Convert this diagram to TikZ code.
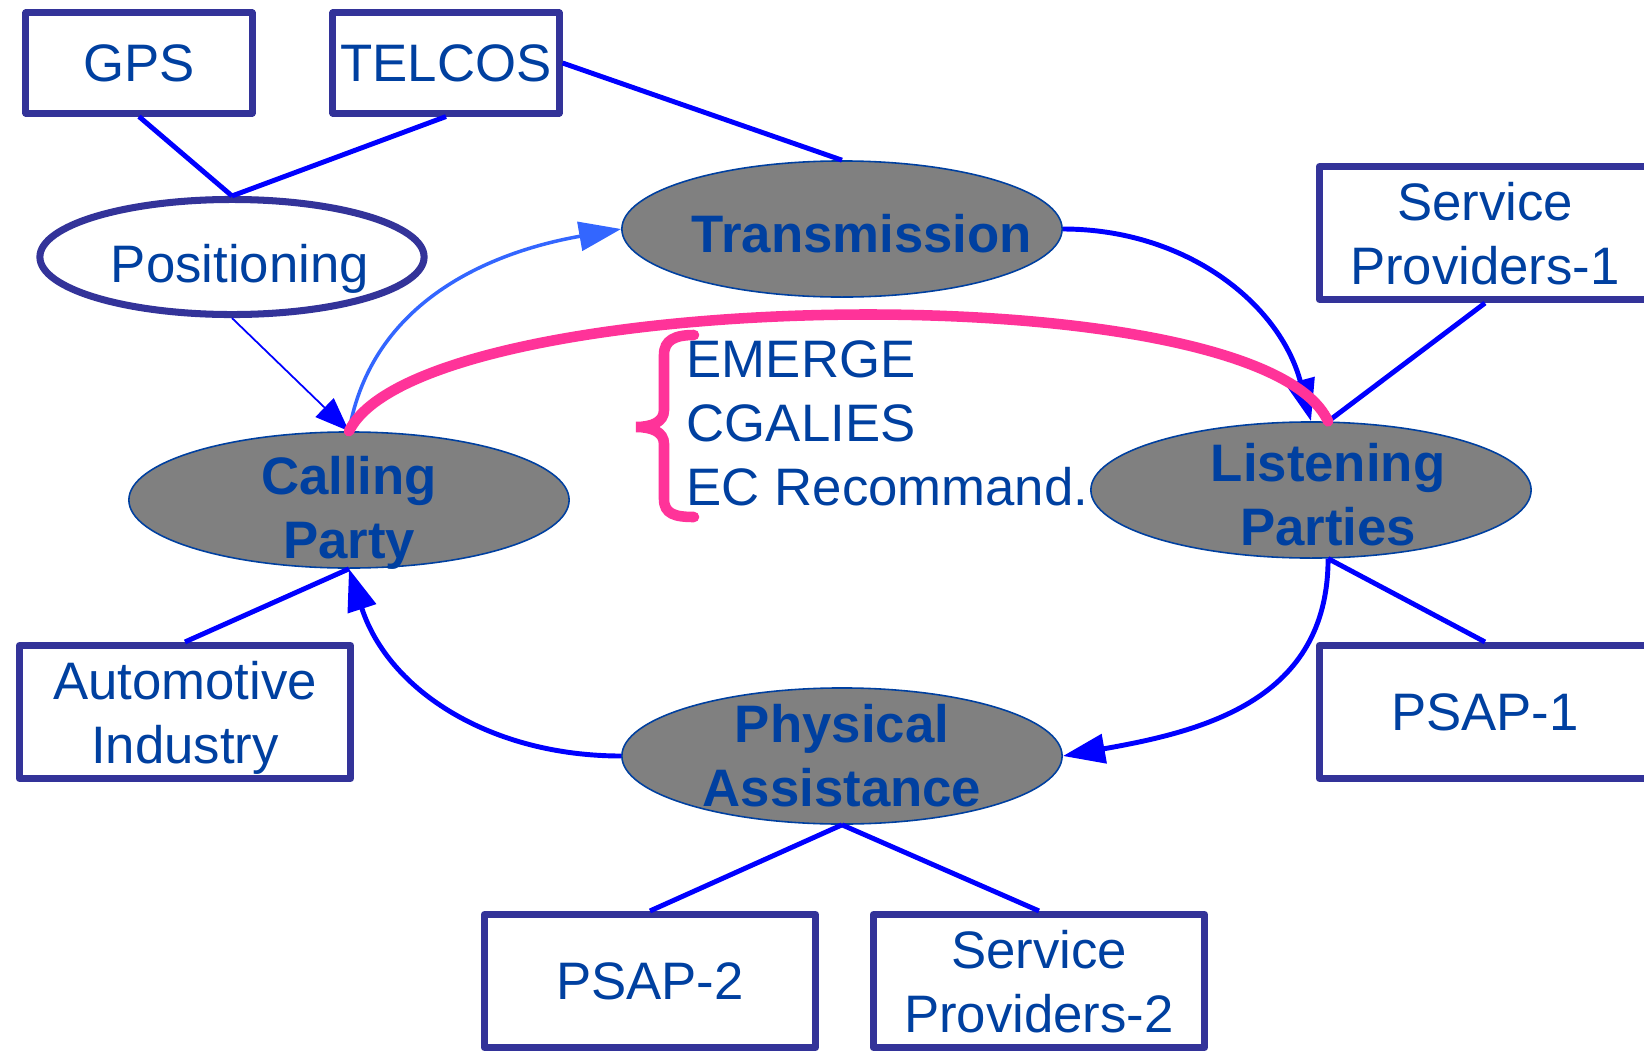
\documentclass[tikz,border=0pt]{standalone}
\usepackage{fontspec}
\setmainfont{Liberation Sans}
\usepackage{tikz}
\usetikzlibrary{shapes.geometric,arrows.meta,positioning,calc}
\definecolor{ecframe}{HTML}{333399}
\definecolor{ectext}{HTML}{0040A0}
\definecolor{eclink}{HTML}{0000FF}
\definecolor{ecsky}{HTML}{3366FF}
\definecolor{ecgray}{HTML}{808080}
\definecolor{ecpink}{HTML}{FF3399}
\newcommand{\ecfont}{\fontsize{15}{18.2}\selectfont}
\tikzset{
  actor/.style={rectangle,draw=ecframe,line width=2pt,line join=round,fill=white,
                minimum width=3.31cm,minimum height=1.33cm,inner sep=0pt,text depth=0pt,
                align=center,font=\ecfont,text=ectext},
  hub/.style={ellipse,draw=ectext,line width=0.45pt,fill=ecgray,
              minimum width=4.4cm,minimum height=1.36cm},
  hubtext/.style={align=center,font=\ecfont\bfseries,text=ectext},
  tie/.style={line width=1.4pt,draw=eclink},
  flow/.style={-{Triangle[length=4.2mm,width=2.9mm]},line width=1.4pt,draw=eclink},
}

\begin{document}
\begin{tikzpicture}[x=0.01cm,y=0.01cm,
  src/.style={actor,minimum width=2.26cm,minimum height=1cm}]
  \useasboundingbox[fill=white] (0,0) rectangle (1644,-1051);
  \node[src] (gps) at (139,-63) {GPS};
  \node[src] (telcos) at (446,-63) {TELCOS};
  \node[ellipse,draw=ecframe,line width=2pt,fill=white,minimum width=3.84cm,minimum height=1.15cm,
        label={[font=\ecfont,text=ectext,xshift=0.08cm,yshift=-0.12cm]center:Positioning}] (pos) at (232,-257) {};
  \node[hub,label={[hubtext,xshift=0.2cm,yshift=-0.05cm]center:Transmission}] (trans) at (842,-229) {};
  \node[hub,label={[hubtext,yshift=-0.13cm]center:Calling\\Party}] (calling) at (349,-500) {};
  \node[hub,label={[hubtext,xshift=0.17cm,yshift=-0.05cm]center:Listening\\Parties}] (listen) at (1311,-490) {};
  \node[hub,label={[hubtext]center:Physical\\Assistance}] (phys) at (842,-756) {};
  \node[actor] (auto) at (185,-712) {Automotive\\Industry};
  \node[actor] (sp1) at (1485,-233) {Service\\Providers-1};
  \node[actor] (psap1) at (1485,-712) {PSAP-1};
  \node[actor] (psap2) at (650,-981) {PSAP-2};
  \node[actor] (sp2) at (1039,-981) {Service\\Providers-2};
  \node[font=\ecfont,text=ectext,align=left,anchor=west,inner sep=0pt] (bodies) at (686,-423)
       {EMERGE\\CGALIES\\EC Recommand.};

  \draw[tie] (gps.south) -- (pos.north);
  \draw[tie] (telcos.south) -- (pos.north);
  \draw[tie] (telcos.east) -- (trans.north);
  \draw[-{Triangle[length=3.4mm,width=2.6mm]},draw=eclink,line width=0.5pt] (pos.south) -- (calling.north);
  \draw[flow,draw=ecsky,line width=1pt] (calling.north) to[out=80,in=190] (trans.west);
  \draw[flow] (trans.east) to[out=0,in=105] (listen.north);
  \draw[flow] (listen.284) to[out=-90,in=10,looseness=1.1] (phys.east);
  \draw[flow] (phys.west) to[out=180,in=-72] (calling.south);
  \draw[tie] (listen.76) -- (sp1.south);
  \draw[tie] (listen.284) -- (psap1.north);
  \draw[tie] (calling.south) -- (auto.north);
  \draw[tie] (phys.south) -- (psap2.north);
  \draw[tie] (phys.south) -- (sp2.north);
  % standards bracket
  \draw[ecpink,line width=3pt,line cap=round] (calling.north) .. controls (420,-285) and (1260,-270) .. (listen.76);
  \draw[ecpink,line width=3pt,line cap=round] (694,-335) .. controls (675,-335) and (664,-340) .. (664,-355)
    -- (664,-410) .. controls (664,-422) and (652,-427) .. (636,-427)
    .. controls (652,-427) and (664,-432) .. (664,-444)
    -- (664,-499) .. controls (664,-514) and (675,-517) .. (694,-517);
\end{tikzpicture}
\end{document}
